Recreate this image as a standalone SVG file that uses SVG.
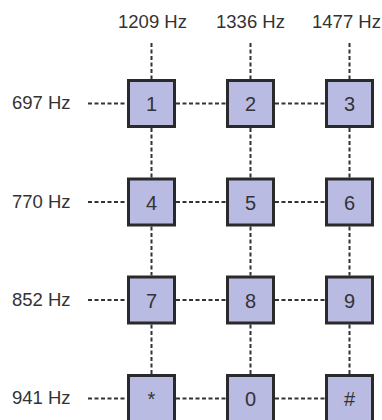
<svg xmlns="http://www.w3.org/2000/svg" width="382" height="420" viewBox="0 0 382 420">
<style>
.lbl{font-family:"Liberation Sans",Arial,sans-serif;font-size:18.5px;fill:#333;}
.key rect{fill:#b9bbe3;stroke:#2a2a2a;stroke-width:3;}
.key text{font-family:"Liberation Sans",Arial,sans-serif;font-size:20px;fill:#333;text-anchor:middle;}
.conn line{stroke:#333;stroke-width:2;stroke-dasharray:4 2.5;}
</style>
<rect width="382" height="420" fill="#fff"/>
<g id="col-labels">
<text class="lbl" x="152.5" y="28" text-anchor="middle">1209 Hz</text>
<text class="lbl" x="250.5" y="28" text-anchor="middle">1336 Hz</text>
<text class="lbl" x="346.5" y="28" text-anchor="middle">1477 Hz</text>
</g>
<g id="row-labels">
<text class="lbl" x="12" y="109">697 Hz</text>
<text class="lbl" x="12" y="208">770 Hz</text>
<text class="lbl" x="12" y="306">852 Hz</text>
<text class="lbl" x="12" y="404">941 Hz</text>
</g>
<g id="connectors" class="conn">
<line x1="151.5" y1="43" x2="151.5" y2="79"/>
<line x1="250.5" y1="43" x2="250.5" y2="79"/>
<line x1="349.5" y1="43" x2="349.5" y2="79"/>
<line x1="151.5" y1="128" x2="151.5" y2="177.5"/>
<line x1="250.5" y1="128" x2="250.5" y2="177.5"/>
<line x1="349.5" y1="128" x2="349.5" y2="177.5"/>
<line x1="151.5" y1="226.5" x2="151.5" y2="275.5"/>
<line x1="250.5" y1="226.5" x2="250.5" y2="275.5"/>
<line x1="349.5" y1="226.5" x2="349.5" y2="275.5"/>
<line x1="151.5" y1="324.5" x2="151.5" y2="374"/>
<line x1="250.5" y1="324.5" x2="250.5" y2="374"/>
<line x1="349.5" y1="324.5" x2="349.5" y2="374"/>
<line x1="88" y1="103.5" x2="127" y2="103.5"/>
<line x1="176" y1="103.5" x2="226" y2="103.5"/>
<line x1="275" y1="103.5" x2="325" y2="103.5"/>
<line x1="88" y1="202" x2="127" y2="202"/>
<line x1="176" y1="202" x2="226" y2="202"/>
<line x1="275" y1="202" x2="325" y2="202"/>
<line x1="88" y1="300" x2="127" y2="300"/>
<line x1="176" y1="300" x2="226" y2="300"/>
<line x1="275" y1="300" x2="325" y2="300"/>
<line x1="88" y1="398.5" x2="127" y2="398.5"/>
<line x1="176" y1="398.5" x2="226" y2="398.5"/>
<line x1="275" y1="398.5" x2="325" y2="398.5"/>
</g>
<g id="key-1" class="key"><rect x="128.5" y="80.5" width="46" height="46"/><text x="151.5" y="111">1</text></g>
<g id="key-2" class="key"><rect x="227.5" y="80.5" width="46" height="46"/><text x="250.5" y="111">2</text></g>
<g id="key-3" class="key"><rect x="326.5" y="80.5" width="46" height="46"/><text x="349.5" y="111">3</text></g>
<g id="key-4" class="key"><rect x="128.5" y="179" width="46" height="46"/><text x="151.5" y="209.5">4</text></g>
<g id="key-5" class="key"><rect x="227.5" y="179" width="46" height="46"/><text x="250.5" y="209.5">5</text></g>
<g id="key-6" class="key"><rect x="326.5" y="179" width="46" height="46"/><text x="349.5" y="209.5">6</text></g>
<g id="key-7" class="key"><rect x="128.5" y="277" width="46" height="46"/><text x="151.5" y="307.5">7</text></g>
<g id="key-8" class="key"><rect x="227.5" y="277" width="46" height="46"/><text x="250.5" y="307.5">8</text></g>
<g id="key-9" class="key"><rect x="326.5" y="277" width="46" height="46"/><text x="349.5" y="307.5">9</text></g>
<g id="key-star" class="key"><rect x="128.5" y="375.5" width="46" height="46"/><text x="151.5" y="406">*</text></g>
<g id="key-0" class="key"><rect x="227.5" y="375.5" width="46" height="46"/><text x="250.5" y="406">0</text></g>
<g id="key-hash" class="key"><rect x="326.5" y="375.5" width="46" height="46"/><text x="349.5" y="406">#</text></g>
</svg>
